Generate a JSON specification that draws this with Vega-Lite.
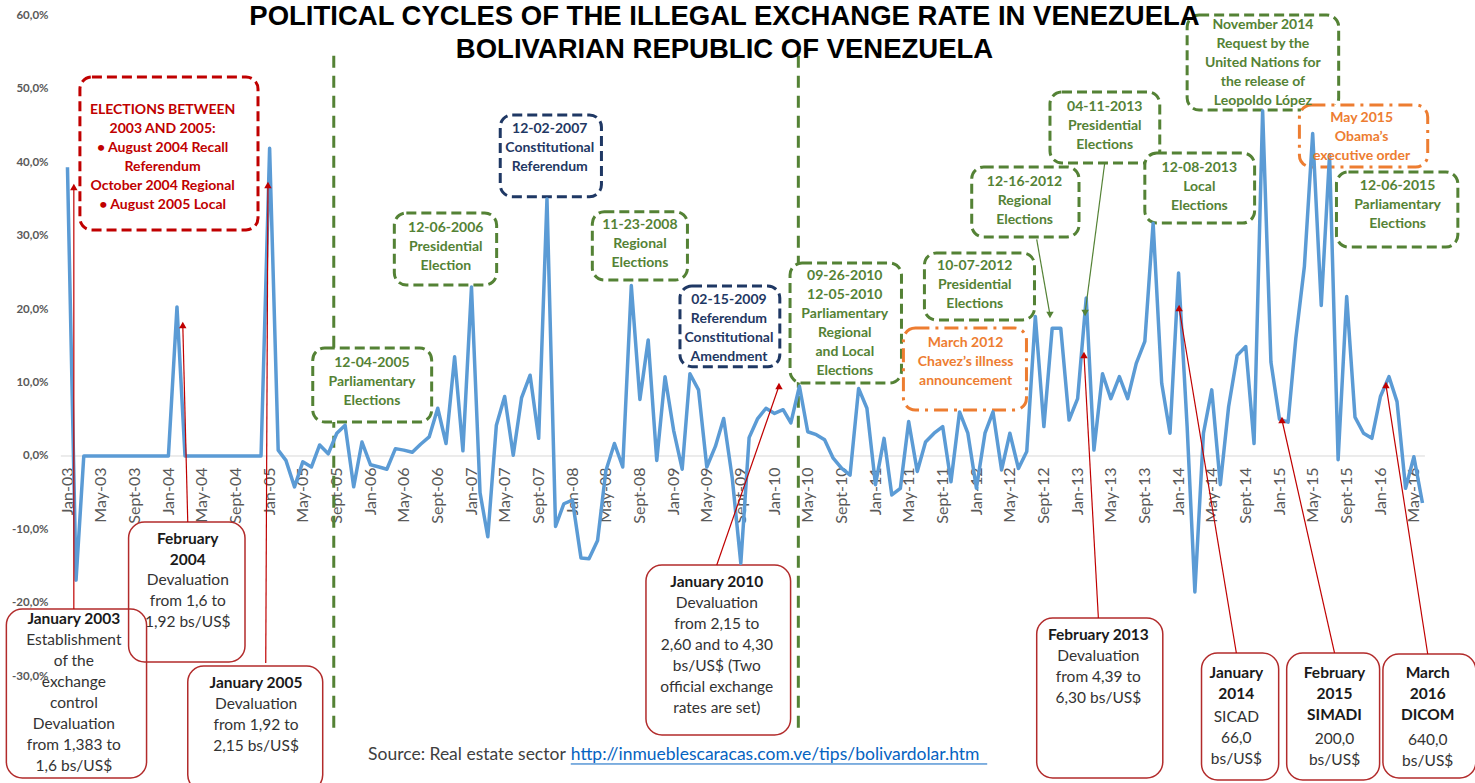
{
  "$schema": "https://vega.github.io/schema/vega-lite/v6.json",
  "width": 1475,
  "height": 783,
  "padding": 0,
  "autosize": {"type": "none"},
  "background": "white",
  "config": {"view": {"stroke": null}, "font": "Lato"},
  "title": {
    "text": ["POLITICAL CYCLES OF THE ILLEGAL EXCHANGE RATE IN VENEZUELA", "BOLIVARIAN REPUBLIC OF VENEZUELA"],
    "font": "Liberation Sans",
    "fontSize": 27.5,
    "fontWeight": "bold",
    "color": "#000000",
    "anchor": "middle",
    "frame": "group",
    "orient": "top",
    "baseline": "top",
    "lineHeight": 33,
    "offset": 0,
    "dx": -13,
    "dy": 63
  },
  "datasets": {
    "rate": [
      {"month": "2003-01-01", "change": 39.3}, {"month": "2003-02-01", "change": -16.9}, {"month": "2003-03-01", "change": 0}, {"month": "2003-04-01", "change": 0}, {"month": "2003-05-01", "change": 0}, {"month": "2003-06-01", "change": 0}, {"month": "2003-07-01", "change": 0}, {"month": "2003-08-01", "change": 0}, {"month": "2003-09-01", "change": 0}, {"month": "2003-10-01", "change": 0}, {"month": "2003-11-01", "change": 0}, {"month": "2003-12-01", "change": 0},
      {"month": "2004-01-01", "change": 0}, {"month": "2004-02-01", "change": 20.3}, {"month": "2004-03-01", "change": 0}, {"month": "2004-04-01", "change": 0}, {"month": "2004-05-01", "change": 0}, {"month": "2004-06-01", "change": 0}, {"month": "2004-07-01", "change": 0}, {"month": "2004-08-01", "change": 0}, {"month": "2004-09-01", "change": 0}, {"month": "2004-10-01", "change": 0}, {"month": "2004-11-01", "change": 0}, {"month": "2004-12-01", "change": 0},
      {"month": "2005-01-01", "change": 41.9}, {"month": "2005-02-01", "change": 0.8}, {"month": "2005-03-01", "change": -0.6}, {"month": "2005-04-01", "change": -4.2}, {"month": "2005-05-01", "change": -0.8}, {"month": "2005-06-01", "change": -1.5}, {"month": "2005-07-01", "change": 1.5}, {"month": "2005-08-01", "change": 0.3}, {"month": "2005-09-01", "change": 3.1}, {"month": "2005-10-01", "change": 4.2}, {"month": "2005-11-01", "change": -4.2}, {"month": "2005-12-01", "change": 1.9},
      {"month": "2006-01-01", "change": -1.2}, {"month": "2006-02-01", "change": -1.5}, {"month": "2006-03-01", "change": -1.8}, {"month": "2006-04-01", "change": 1.0}, {"month": "2006-05-01", "change": 0.8}, {"month": "2006-06-01", "change": 0.5}, {"month": "2006-07-01", "change": 1.6}, {"month": "2006-08-01", "change": 2.6}, {"month": "2006-09-01", "change": 6.5}, {"month": "2006-10-01", "change": 1.7}, {"month": "2006-11-01", "change": 13.5}, {"month": "2006-12-01", "change": 0.7},
      {"month": "2007-01-01", "change": 23.0}, {"month": "2007-02-01", "change": -5.0}, {"month": "2007-03-01", "change": -11.0}, {"month": "2007-04-01", "change": 4.2}, {"month": "2007-05-01", "change": 8.1}, {"month": "2007-06-01", "change": 0.1}, {"month": "2007-07-01", "change": 7.9}, {"month": "2007-08-01", "change": 11.0}, {"month": "2007-09-01", "change": 2.4}, {"month": "2007-10-01", "change": 35.0}, {"month": "2007-11-01", "change": -9.6}, {"month": "2007-12-01", "change": -6.5},
      {"month": "2008-01-01", "change": -6.0}, {"month": "2008-02-01", "change": -13.9}, {"month": "2008-03-01", "change": -14.0}, {"month": "2008-04-01", "change": -11.5}, {"month": "2008-05-01", "change": -2.0}, {"month": "2008-06-01", "change": 1.7}, {"month": "2008-07-01", "change": -1.5}, {"month": "2008-08-01", "change": 23.2}, {"month": "2008-09-01", "change": 7.7}, {"month": "2008-10-01", "change": 15.8}, {"month": "2008-11-01", "change": -0.6}, {"month": "2008-12-01", "change": 10.8},
      {"month": "2009-01-01", "change": 3.5}, {"month": "2009-02-01", "change": -1.8}, {"month": "2009-03-01", "change": 11.2}, {"month": "2009-04-01", "change": 9.0}, {"month": "2009-05-01", "change": -1.5}, {"month": "2009-06-01", "change": 1.3}, {"month": "2009-07-01", "change": 5.1}, {"month": "2009-08-01", "change": -3.0}, {"month": "2009-09-01", "change": -14.6}, {"month": "2009-10-01", "change": 2.5}, {"month": "2009-11-01", "change": 5.1}, {"month": "2009-12-01", "change": 6.5},
      {"month": "2010-01-01", "change": 5.8}, {"month": "2010-02-01", "change": 6.3}, {"month": "2010-03-01", "change": 4.5}, {"month": "2010-04-01", "change": 9.5}, {"month": "2010-05-01", "change": 3.3}, {"month": "2010-06-01", "change": 2.9}, {"month": "2010-07-01", "change": 2.2}, {"month": "2010-08-01", "change": -0.3}, {"month": "2010-09-01", "change": -1.7}, {"month": "2010-10-01", "change": -2.6}, {"month": "2010-11-01", "change": 9.2}, {"month": "2010-12-01", "change": 6.5},
      {"month": "2011-01-01", "change": -3.9}, {"month": "2011-02-01", "change": 2.4}, {"month": "2011-03-01", "change": -5.3}, {"month": "2011-04-01", "change": -4.4}, {"month": "2011-05-01", "change": 4.7}, {"month": "2011-06-01", "change": -2.1}, {"month": "2011-07-01", "change": 1.9}, {"month": "2011-08-01", "change": 3.1}, {"month": "2011-09-01", "change": 4.0}, {"month": "2011-10-01", "change": -3.5}, {"month": "2011-11-01", "change": 6.0}, {"month": "2011-12-01", "change": 3.1},
      {"month": "2012-01-01", "change": -4.4}, {"month": "2012-02-01", "change": 3.1}, {"month": "2012-03-01", "change": 6.0}, {"month": "2012-04-01", "change": -1.9}, {"month": "2012-05-01", "change": 3.1}, {"month": "2012-06-01", "change": -1.7}, {"month": "2012-07-01", "change": 0.6}, {"month": "2012-08-01", "change": 19.0}, {"month": "2012-09-01", "change": 4.0}, {"month": "2012-10-01", "change": 17.4}, {"month": "2012-11-01", "change": 17.4}, {"month": "2012-12-01", "change": 4.9},
      {"month": "2013-01-01", "change": 7.8}, {"month": "2013-02-01", "change": 21.5}, {"month": "2013-03-01", "change": 0.8}, {"month": "2013-04-01", "change": 11.2}, {"month": "2013-05-01", "change": 7.8}, {"month": "2013-06-01", "change": 10.8}, {"month": "2013-07-01", "change": 7.8}, {"month": "2013-08-01", "change": 12.6}, {"month": "2013-09-01", "change": 15.6}, {"month": "2013-10-01", "change": 31.7}, {"month": "2013-11-01", "change": 9.9}, {"month": "2013-12-01", "change": 3.1},
      {"month": "2014-01-01", "change": 24.9}, {"month": "2014-02-01", "change": 4.0}, {"month": "2014-03-01", "change": -18.5}, {"month": "2014-04-01", "change": 3.1}, {"month": "2014-05-01", "change": 9.0}, {"month": "2014-06-01", "change": -3.9}, {"month": "2014-07-01", "change": 6.7}, {"month": "2014-08-01", "change": 13.7}, {"month": "2014-09-01", "change": 14.9}, {"month": "2014-10-01", "change": 1.7}, {"month": "2014-11-01", "change": 47.0}, {"month": "2014-12-01", "change": 12.8},
      {"month": "2015-01-01", "change": 5.0}, {"month": "2015-02-01", "change": 4.6}, {"month": "2015-03-01", "change": 16.0}, {"month": "2015-04-01", "change": 25.8}, {"month": "2015-05-01", "change": 43.9}, {"month": "2015-06-01", "change": 20.5}, {"month": "2015-07-01", "change": 41.0}, {"month": "2015-08-01", "change": -0.5}, {"month": "2015-09-01", "change": 21.7}, {"month": "2015-10-01", "change": 5.3}, {"month": "2015-11-01", "change": 3.1}, {"month": "2015-12-01", "change": 2.4},
      {"month": "2016-01-01", "change": 8.1}, {"month": "2016-02-01", "change": 10.8}, {"month": "2016-03-01", "change": 7.4}, {"month": "2016-04-01", "change": -4.4}, {"month": "2016-05-01", "change": -0.1}, {"month": "2016-06-01", "change": -6.4}
    ],
    "dividers": [
      {"date": "2005-08-21"},
      {"date": "2010-03-28"}
    ],
    "boxes": [
      {"kind": "cycle", "from": "2003-02-15", "to": "2004-11-20", "top": 51.6, "bottom": 30.77},
      {"kind": "election", "from": "2005-06-06", "to": "2006-08-10", "top": 14.7, "bottom": 4.63},
      {"kind": "election", "from": "2006-03-28", "to": "2007-04-02", "top": 33.08, "bottom": 23.28},
      {"kind": "referendum", "from": "2007-04-15", "to": "2008-04-15", "top": 46.43, "bottom": 35.3},
      {"kind": "election", "from": "2008-03-13", "to": "2009-02-20", "top": 33.26, "bottom": 23.96},
      {"kind": "referendum", "from": "2009-01-24", "to": "2010-01-20", "top": 23.15, "bottom": 12.16},
      {"kind": "election", "from": "2010-02-26", "to": "2011-04-05", "top": 26.28, "bottom": 9.94},
      {"kind": "election", "from": "2011-06-27", "to": "2012-07-29", "top": 27.64, "bottom": 18.52},
      {"kind": "event", "from": "2011-04-12", "to": "2012-06-30", "top": 17.43, "bottom": 6.26},
      {"kind": "election", "from": "2011-12-15", "to": "2013-01-06", "top": 39.35, "bottom": 29.82},
      {"kind": "election", "from": "2012-09-23", "to": "2013-10-25", "top": 49.56, "bottom": 39.89},
      {"kind": "election", "from": "2013-09-01", "to": "2014-10-03", "top": 41.25, "bottom": 31.72},
      {"kind": "election", "from": "2014-02-01", "to": "2015-08-03", "top": 60.04, "bottom": 47.11},
      {"kind": "event", "from": "2015-03-14", "to": "2016-06-20", "top": 47.79, "bottom": 39.35},
      {"kind": "election", "from": "2015-07-26", "to": "2016-10-07", "top": 38.67, "bottom": 28.45},
      {"kind": "devaluation", "from": "2002-05-25", "to": "2003-10-14", "top": -20.83, "bottom": -43.84},
      {"kind": "devaluation", "from": "2003-08-10", "to": "2004-10-04", "top": -8.99, "bottom": -28.05},
      {"kind": "devaluation", "from": "2004-03-11", "to": "2005-07-12", "top": -28.59, "bottom": -45.6},
      {"kind": "devaluation", "from": "2008-09-23", "to": "2010-02-28", "top": -14.84, "bottom": -37.98},
      {"kind": "devaluation", "from": "2012-08-06", "to": "2013-11-05", "top": -22.06, "bottom": -43.84},
      {"kind": "devaluation", "from": "2014-03-25", "to": "2014-12-29", "top": -26.82, "bottom": -44.11},
      {"kind": "devaluation", "from": "2015-01-27", "to": "2015-12-29", "top": -26.82, "bottom": -44.11},
      {"kind": "devaluation", "from": "2016-01-10", "to": "2016-12-11", "top": -26.96, "bottom": -43.84}
    ],
    "arrows": [
      {"kind": "devaluation", "pointing": "up", "fromDate": "2003-01-24", "fromValue": -20.83, "toDate": "2003-01-24", "toValue": 36.62},
      {"kind": "devaluation", "pointing": "up", "fromDate": "2004-03-11", "fromValue": -8.99, "toDate": "2004-02-22", "toValue": 17.84},
      {"kind": "devaluation", "pointing": "up", "fromDate": "2004-12-18", "fromValue": -28.18, "toDate": "2004-12-26", "toValue": 36.9},
      {"kind": "devaluation", "pointing": "up", "fromDate": "2009-06-06", "fromValue": -14.84, "toDate": "2010-01-17", "toValue": 9.53},
      {"kind": "devaluation", "pointing": "up", "fromDate": "2013-03-17", "fromValue": -22.06, "toDate": "2013-01-24", "toValue": 13.75},
      {"kind": "devaluation", "pointing": "up", "fromDate": "2014-07-29", "fromValue": -26.82, "toDate": "2014-01-03", "toValue": 20.15},
      {"kind": "devaluation", "pointing": "up", "fromDate": "2015-07-19", "fromValue": -26.82, "toDate": "2015-01-10", "toValue": 4.9},
      {"kind": "devaluation", "pointing": "up", "fromDate": "2016-06-20", "fromValue": -26.96, "toDate": "2016-01-21", "toValue": 9.67},
      {"kind": "election", "pointing": "down", "fromDate": "2012-08-06", "fromValue": 29.5, "toDate": "2012-09-23", "toValue": 19.2},
      {"kind": "election", "pointing": "down", "fromDate": "2013-04-09", "fromValue": 39.89, "toDate": "2013-01-28", "toValue": 19.47}
    ],
    "notes": [
      {"part": "box", "kind": "cycle", "date": "2003-12-11", "value": 47.11, "text": "ELECTIONS BETWEEN\n2003 AND 2005:\n•    August 2004 Recall\nReferendum\nOctober 2004 Regional\n•    August 2005 Local"},
      {"part": "box", "kind": "election", "date": "2006-01-06", "value": 12.66, "text": "12-04-2005\nParliamentary\nElections"},
      {"part": "box", "kind": "election", "date": "2006-09-30", "value": 31.04, "text": "12-06-2006\nPresidential\nElection"},
      {"part": "box", "kind": "referendum", "date": "2007-10-11", "value": 44.48, "text": "12-02-2007\nConstitutional\nReferendum"},
      {"part": "box", "kind": "election", "date": "2008-09-01", "value": 31.45, "text": "11-23-2008\nRegional\nElections"},
      {"part": "box", "kind": "referendum", "date": "2009-07-20", "value": 21.24, "text": "02-15-2009\nReferendum\nConstitutional\nAmendment"},
      {"part": "box", "kind": "election", "date": "2010-09-12", "value": 24.51, "text": "09-26-2010\n12-05-2010\nParliamentary\nRegional\nand Local\nElections"},
      {"part": "box", "kind": "election", "date": "2011-12-26", "value": 25.87, "text": "10-07-2012\nPresidential\nElections"},
      {"part": "box", "kind": "event", "date": "2011-11-23", "value": 15.38, "text": "March 2012\nChavez’s illness\nannouncement"},
      {"part": "box", "kind": "election", "date": "2012-06-23", "value": 37.3, "text": "12-16-2012\nRegional\nElections"},
      {"part": "box", "kind": "election", "date": "2013-04-09", "value": 47.52, "text": "04-11-2013\nPresidential\nElections"},
      {"part": "box", "kind": "election", "date": "2014-03-17", "value": 39.21, "text": "12-08-2013\nLocal\nElections"},
      {"part": "box", "kind": "election", "date": "2014-11-02", "value": 58.68, "text": "November 2014\nRequest by the\nUnited Nations for\nthe release of\nLeopoldo López"},
      {"part": "box", "kind": "event", "date": "2015-10-25", "value": 46.02, "text": "May 2015\nObama’s\nexecutive order"},
      {"part": "box", "kind": "election", "date": "2016-03-03", "value": 36.76, "text": "12-06-2015\nParliamentary\nElections"},
      {"part": "head", "kind": "devaluation", "date": "2003-01-24", "value": -22.19, "text": "January 2003"},
      {"part": "body", "kind": "devaluation", "date": "2003-01-24", "value": -25.05, "text": "Establishment\nof the\nexchange\ncontrol\nDevaluation\nfrom 1,383 to\n1,6 bs/US$"},
      {"part": "head", "kind": "devaluation", "date": "2004-03-11", "value": -11.3, "text": "February\n2004"},
      {"part": "body", "kind": "devaluation", "date": "2004-03-11", "value": -16.88, "text": "Devaluation\nfrom 1,6 to\n1,92 bs/US$"},
      {"part": "head", "kind": "devaluation", "date": "2004-11-13", "value": -30.91, "text": "January 2005"},
      {"part": "body", "kind": "devaluation", "date": "2004-11-13", "value": -33.76, "text": "Devaluation\nfrom 1,92 to\n2,15 bs/US$"},
      {"part": "head", "kind": "devaluation", "date": "2009-06-06", "value": -17.15, "text": "January 2010"},
      {"part": "body", "kind": "devaluation", "date": "2009-06-06", "value": -20.01, "text": "Devaluation\nfrom 2,15 to\n2,60 and to 4,30\nbs/US$ (Two\nofficial exchange\nrates are set)"},
      {"part": "head", "kind": "devaluation", "date": "2013-03-17", "value": -24.37, "text": "February 2013"},
      {"part": "body", "kind": "devaluation", "date": "2013-03-17", "value": -27.23, "text": "Devaluation\nfrom 4,39 to\n6,30 bs/US$"},
      {"part": "head", "kind": "devaluation", "date": "2014-07-29", "value": -29.54, "text": "January\n2014"},
      {"part": "body", "kind": "devaluation", "date": "2014-07-29", "value": -35.53, "text": "SICAD\n66,0\nbs/US$"},
      {"part": "head", "kind": "devaluation", "date": "2015-07-19", "value": -29.54, "text": "February\n2015\nSIMADI"},
      {"part": "body", "kind": "devaluation", "date": "2015-07-19", "value": -38.53, "text": "200,0\nbs/US$"},
      {"part": "head", "kind": "devaluation", "date": "2016-06-20", "value": -29.54, "text": "March\n2016\nDICOM"},
      {"part": "body", "kind": "devaluation", "date": "2016-06-20", "value": -38.67, "text": "640,0\nbs/US$"},
      {"part": "source", "kind": "source", "date": "2005-12-23", "value": -40.71, "text": "Source: Real estate sector"},
      {"part": "link", "kind": "link", "date": "2007-12-26", "value": -40.71, "text": "http://inmueblescaracas.com.ve/tips/bolivardolar.htm"}
    ]
  },
  "layer": [
    {
      "data": {"values": [{}]},
      "mark": {"type": "rule", "color": "#d9d9d9", "strokeWidth": 1},
      "encoding": {
        "x": {"datum": {"year": 2002, "month": 12, "date": 8, "utc": true}, "type": "temporal", "title": null, "scale": {"type": "utc", "domain": [{"year": 2002, "month": 5, "date": 2, "utc": true}, {"year": 2016, "month": 12, "date": 8, "utc": true}]}},
        "x2": {"datum": {"year": 2016, "month": 6, "date": 10, "utc": true}},
        "y": {"datum": 0, "type": "quantitative", "title": null, "scale": {"domain": [-44.52, 62.08], "nice": false, "zero": false}}
      }
    },
    {
      "data": {"name": "dividers"},
      "mark": {"type": "rule", "color": "#548235", "strokeWidth": 3, "strokeDash": [12, 8]},
      "encoding": {
        "x": {"field": "date", "type": "temporal", "title": null, "scale": {"type": "utc", "domain": [{"year": 2002, "month": 5, "date": 2, "utc": true}, {"year": 2016, "month": 12, "date": 8, "utc": true}]}},
        "y": {"datum": 54.5, "type": "quantitative", "title": null, "scale": {"domain": [-44.52, 62.08], "nice": false, "zero": false}},
        "y2": {"datum": -38.0}
      }
    },
    {
      "data": {"name": "boxes"},
      "transform": [{"filter": "datum.kind == 'cycle' || datum.kind == 'election' || datum.kind == 'referendum'"}],
      "mark": {"type": "rect", "fill": "white", "strokeWidth": 3, "cornerRadius": 12, "strokeDash": [10, 5]},
      "encoding": {
        "x": {"field": "from", "type": "temporal", "title": null, "scale": {"type": "utc", "domain": [{"year": 2002, "month": 5, "date": 2, "utc": true}, {"year": 2016, "month": 12, "date": 8, "utc": true}]}},
        "x2": {"field": "to"},
        "y": {"field": "top", "type": "quantitative", "title": null, "scale": {"domain": [-44.52, 62.08], "nice": false, "zero": false}},
        "y2": {"field": "bottom"},
        "stroke": {"field": "kind", "type": "nominal", "legend": null, "scale": {"domain": ["cycle", "election", "referendum", "event", "devaluation"], "range": ["#c00000", "#548235", "#1f3864", "#ed7d31", "#b22b2b"]}}
      }
    },
    {
      "data": {"name": "boxes"},
      "transform": [{"filter": "datum.kind == 'event'"}],
      "mark": {"type": "rect", "fill": "white", "strokeWidth": 3, "cornerRadius": 12, "strokeDash": [14, 6, 3, 6]},
      "encoding": {
        "x": {"field": "from", "type": "temporal", "title": null, "scale": {"type": "utc", "domain": [{"year": 2002, "month": 5, "date": 2, "utc": true}, {"year": 2016, "month": 12, "date": 8, "utc": true}]}},
        "x2": {"field": "to"},
        "y": {"field": "top", "type": "quantitative", "title": null, "scale": {"domain": [-44.52, 62.08], "nice": false, "zero": false}},
        "y2": {"field": "bottom"},
        "stroke": {"field": "kind", "type": "nominal", "legend": null, "scale": {"domain": ["cycle", "election", "referendum", "event", "devaluation"], "range": ["#c00000", "#548235", "#1f3864", "#ed7d31", "#b22b2b"]}}
      }
    },
    {
      "data": {"name": "boxes"},
      "transform": [{"filter": "datum.kind == 'devaluation'"}],
      "mark": {"type": "rect", "filled": false, "stroke": "#b22b2b", "strokeWidth": 1.5, "cornerRadius": 16},
      "encoding": {
        "x": {"field": "from", "type": "temporal", "title": null, "scale": {"type": "utc", "domain": [{"year": 2002, "month": 5, "date": 2, "utc": true}, {"year": 2016, "month": 12, "date": 8, "utc": true}]}},
        "x2": {"field": "to"},
        "y": {"field": "top", "type": "quantitative", "title": null, "scale": {"domain": [-44.52, 62.08], "nice": false, "zero": false}},
        "y2": {"field": "bottom"}
      }
    },
    {
      "data": {"name": "rate"},
      "mark": {"type": "line", "color": "#5b9bd5", "strokeWidth": 3.5, "strokeJoin": "round"},
      "encoding": {
        "x": {
          "field": "month", "type": "temporal", "title": null,
          "scale": {"type": "utc", "domain": [{"year": 2002, "month": 5, "date": 2, "utc": true}, {"year": 2016, "month": 12, "date": 8, "utc": true}]},
          "axis": {
            "orient": "bottom", "offset": -327, "domain": false, "ticks": false, "tickSize": 0, "grid": false,
            "labelAngle": -90, "labelPadding": 11, "labelFont": "Lato", "labelFontSize": 16, "labelColor": "#595959",
            "labelOverlap": false, "labelFlush": false, "labelBound": false,
            "tickCount": {"interval": "month", "step": 4},
            "labelExpr": "datum.value < utc(2002,11,15) || datum.value > utc(2016,5,1) ? '' : (utcFormat(datum.value, '%m') == '09' ? 'Sept' : utcFormat(datum.value, '%b')) + '-' + utcFormat(datum.value, '%y')",
            "zindex": 0
          }
        },
        "y": {
          "field": "change", "type": "quantitative", "title": null,
          "scale": {"domain": [-44.52, 62.08], "nice": false, "zero": false},
          "axis": {
            "orient": "left", "offset": -51, "domain": false, "ticks": false, "tickSize": 0, "grid": false,
            "values": [-30, -20, -10, 0, 10, 20, 30, 40, 50, 60],
            "labelExpr": "datum.value + ',0%'",
            "labelFont": "Lato", "labelFontSize": 11.5, "labelFontWeight": "bold", "labelColor": "#595959",
            "labelPadding": 3, "labelOverlap": false, "labelFlush": false, "labelBound": false,
            "zindex": 1
          }
        }
      }
    },
    {
      "data": {"name": "arrows"},
      "mark": {"type": "rule", "strokeWidth": 1.2},
      "encoding": {
        "x": {"field": "fromDate", "type": "temporal", "title": null, "scale": {"type": "utc", "domain": [{"year": 2002, "month": 5, "date": 2, "utc": true}, {"year": 2016, "month": 12, "date": 8, "utc": true}]}},
        "x2": {"field": "toDate"},
        "y": {"field": "fromValue", "type": "quantitative", "title": null, "scale": {"domain": [-44.52, 62.08], "nice": false, "zero": false}},
        "y2": {"field": "toValue"},
        "color": {"field": "kind", "type": "nominal", "legend": null, "scale": {"domain": ["cycle", "election", "referendum", "event", "devaluation"], "range": ["#c00000", "#548235", "#1f3864", "#ed7d31", "#c00000"]}}
      }
    },
    {
      "data": {"name": "arrows"},
      "mark": {"type": "point", "filled": true, "size": 55, "opacity": 1},
      "encoding": {
        "x": {"field": "toDate", "type": "temporal", "title": null, "scale": {"type": "utc", "domain": [{"year": 2002, "month": 5, "date": 2, "utc": true}, {"year": 2016, "month": 12, "date": 8, "utc": true}]}},
        "y": {"field": "toValue", "type": "quantitative", "title": null, "scale": {"domain": [-44.52, 62.08], "nice": false, "zero": false}},
        "color": {"field": "kind", "type": "nominal", "legend": null, "scale": {"domain": ["cycle", "election", "referendum", "event", "devaluation"], "range": ["#c00000", "#548235", "#1f3864", "#ed7d31", "#c00000"]}},
        "shape": {"field": "pointing", "type": "nominal", "legend": null, "scale": {"domain": ["up", "down"], "range": ["triangle-up", "triangle-down"]}}
      }
    },
    {
      "data": {"name": "notes"},
      "transform": [{"filter": "datum.part == 'box'"}],
      "mark": {"type": "text", "font": "Lato", "fontSize": 14, "fontWeight": "bold", "lineHeight": 19, "lineBreak": "\n", "align": "center", "baseline": "middle"},
      "encoding": {
        "x": {"field": "date", "type": "temporal", "title": null, "scale": {"type": "utc", "domain": [{"year": 2002, "month": 5, "date": 2, "utc": true}, {"year": 2016, "month": 12, "date": 8, "utc": true}]}},
        "y": {"field": "value", "type": "quantitative", "title": null, "scale": {"domain": [-44.52, 62.08], "nice": false, "zero": false}},
        "text": {"field": "text"},
        "color": {"field": "kind", "type": "nominal", "legend": null, "scale": {"domain": ["cycle", "election", "referendum", "event", "devaluation"], "range": ["#c00000", "#548235", "#1f3864", "#ed7d31", "#c00000"]}}
      }
    },
    {
      "data": {"name": "notes"},
      "transform": [{"filter": "datum.part == 'head'"}],
      "mark": {"type": "text", "font": "Lato", "fontSize": 15.5, "fontWeight": "bold", "lineHeight": 21, "lineBreak": "\n", "align": "center", "baseline": "middle", "color": "#1a1a1a"},
      "encoding": {
        "x": {"field": "date", "type": "temporal", "title": null, "scale": {"type": "utc", "domain": [{"year": 2002, "month": 5, "date": 2, "utc": true}, {"year": 2016, "month": 12, "date": 8, "utc": true}]}},
        "y": {"field": "value", "type": "quantitative", "title": null, "scale": {"domain": [-44.52, 62.08], "nice": false, "zero": false}},
        "text": {"field": "text"}
      }
    },
    {
      "data": {"name": "notes"},
      "transform": [{"filter": "datum.part == 'body'"}],
      "mark": {"type": "text", "font": "Lato", "fontSize": 15.5, "lineHeight": 21, "lineBreak": "\n", "align": "center", "baseline": "middle", "color": "#333333"},
      "encoding": {
        "x": {"field": "date", "type": "temporal", "title": null, "scale": {"type": "utc", "domain": [{"year": 2002, "month": 5, "date": 2, "utc": true}, {"year": 2016, "month": 12, "date": 8, "utc": true}]}},
        "y": {"field": "value", "type": "quantitative", "title": null, "scale": {"domain": [-44.52, 62.08], "nice": false, "zero": false}},
        "text": {"field": "text"}
      }
    },
    {
      "data": {"name": "notes"},
      "transform": [{"filter": "datum.part == 'source'"}],
      "mark": {"type": "text", "font": "Lato", "fontSize": 17.5, "align": "left", "baseline": "middle", "color": "#404040"},
      "encoding": {
        "x": {"field": "date", "type": "temporal", "title": null, "scale": {"type": "utc", "domain": [{"year": 2002, "month": 5, "date": 2, "utc": true}, {"year": 2016, "month": 12, "date": 8, "utc": true}]}},
        "y": {"field": "value", "type": "quantitative", "title": null, "scale": {"domain": [-44.52, 62.08], "nice": false, "zero": false}},
        "text": {"field": "text"}
      }
    },
    {
      "data": {"name": "notes"},
      "transform": [{"filter": "datum.part == 'link'"}],
      "mark": {"type": "text", "font": "Lato", "fontSize": 17.5, "align": "left", "baseline": "middle", "color": "#0563c1"},
      "encoding": {
        "x": {"field": "date", "type": "temporal", "title": null, "scale": {"type": "utc", "domain": [{"year": 2002, "month": 5, "date": 2, "utc": true}, {"year": 2016, "month": 12, "date": 8, "utc": true}]}},
        "y": {"field": "value", "type": "quantitative", "title": null, "scale": {"domain": [-44.52, 62.08], "nice": false, "zero": false}},
        "text": {"field": "text"}
      }
    },
    {
      "data": {"values": [{}]},
      "mark": {"type": "rule", "color": "#0563c1", "strokeWidth": 1},
      "encoding": {
        "x": {"datum": {"year": 2007, "month": 12, "date": 26, "utc": true}, "type": "temporal", "title": null, "scale": {"type": "utc", "domain": [{"year": 2002, "month": 5, "date": 2, "utc": true}, {"year": 2016, "month": 12, "date": 8, "utc": true}]}},
        "x2": {"datum": {"year": 2012, "month": 2, "date": 9, "utc": true}},
        "y": {"datum": -41.93, "type": "quantitative", "title": null, "scale": {"domain": [-44.52, 62.08], "nice": false, "zero": false}}
      }
    }
  ]
}
